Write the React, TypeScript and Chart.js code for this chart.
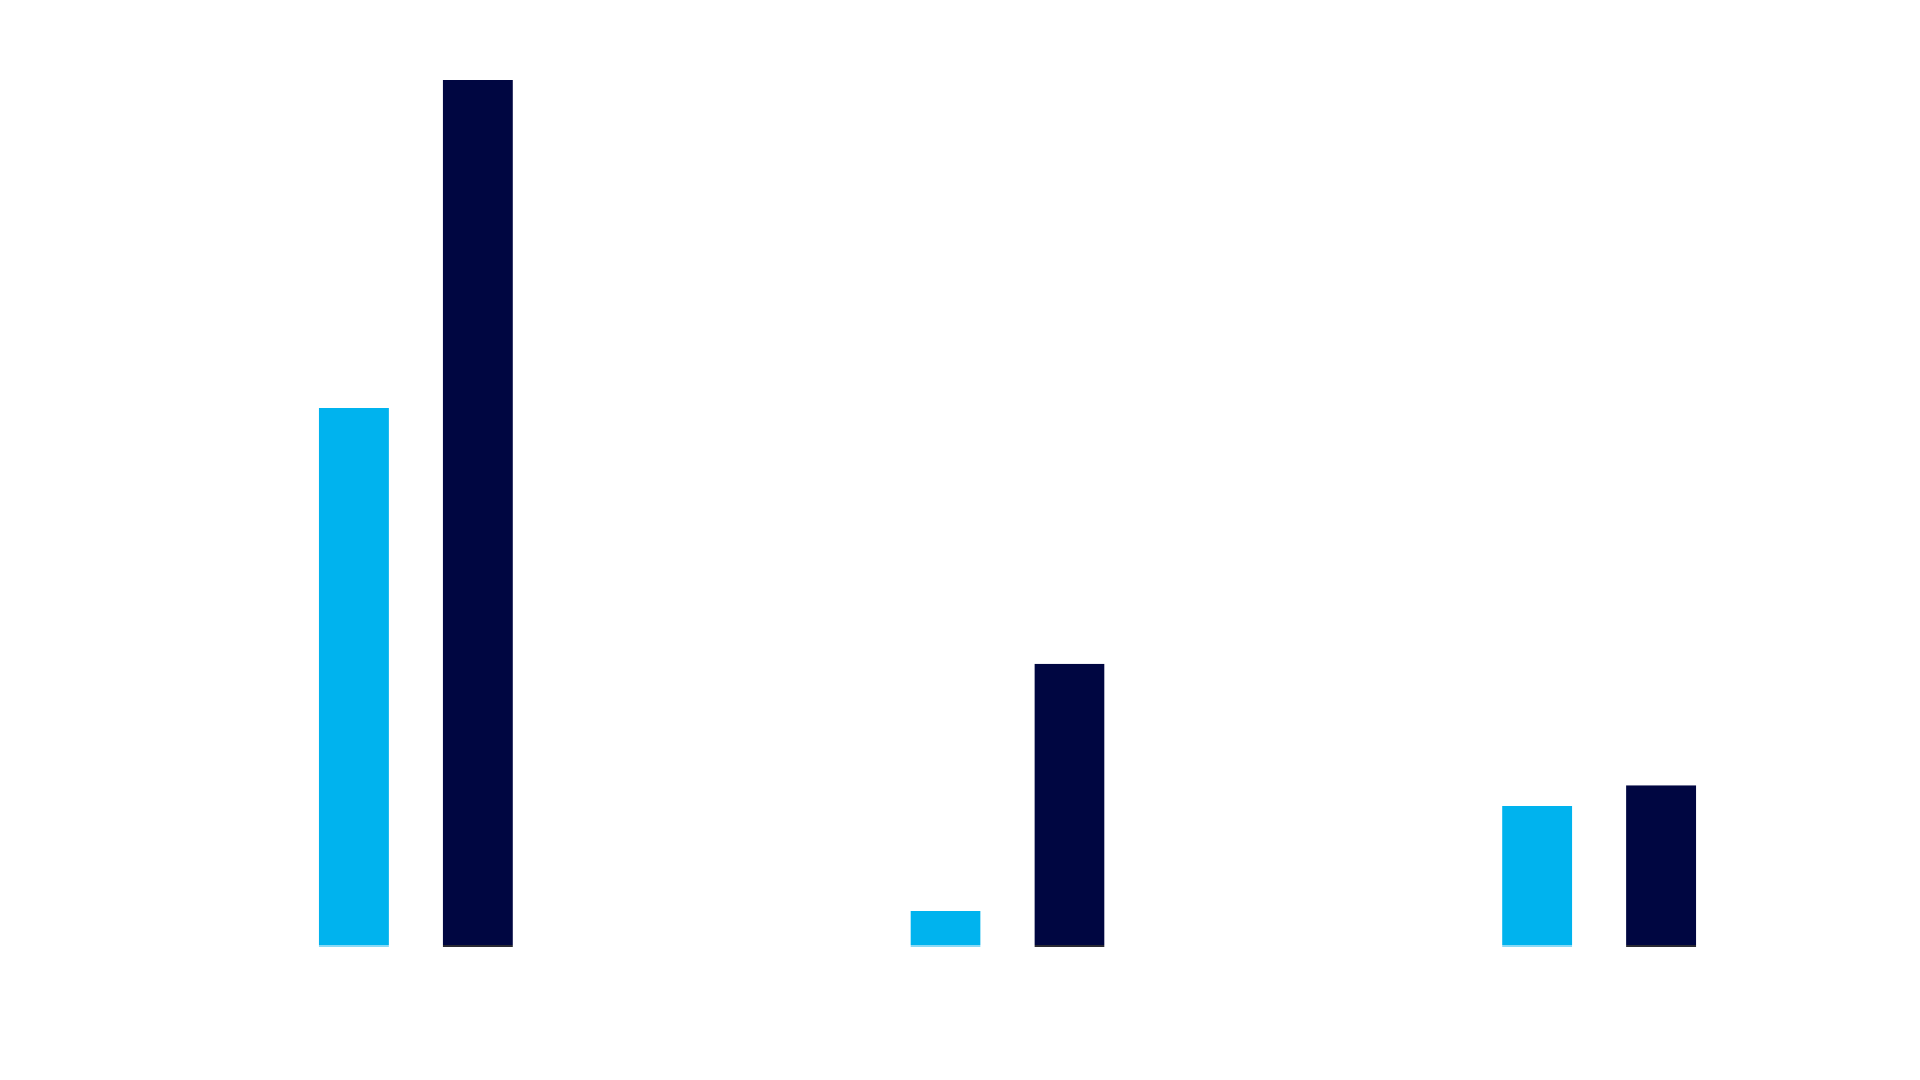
import React, { useEffect, useRef } from "react";
import { Chart, registerables } from "chart.js";

Chart.register(...registerables);

const categories: string[] = ["Group 1", "Group 2", "Group 3"];
const seriesNames: string[] = ["Series A", "Series B"];
const seriesA: number[] = [3.73, 0.25, 0.975];
const seriesB: number[] = [6.0, 1.96, 1.12];
const yTicks: number[] = [0, 1, 2, 3, 4, 5, 6];

export default function App() {
  const ref = useRef<HTMLCanvasElement | null>(null);

  useEffect(() => {
    if (!ref.current) return;
    const chart = new Chart(ref.current, {
      type: "bar",
      data: {
        labels: categories,
        datasets: [
          {
            label: seriesNames[0],
            data: seriesA,
            backgroundColor: "#00B3EE",
            borderColor: "#8AD9F5",
            borderWidth: { top: 0, left: 0, right: 0, bottom: 2 },
            borderSkipped: false,
          },
          {
            label: seriesNames[1],
            data: seriesB,
            backgroundColor: "#000641",
            borderColor: "#2A2A33",
            borderWidth: { top: 0, left: 0, right: 0, bottom: 2 },
            borderSkipped: false,
          },
        ],
      },
      options: {
        animation: false,
        responsive: false,
        maintainAspectRatio: false,
        layout: { padding: { left: 120, right: 25, top: 80, bottom: 133 } },
        plugins: { legend: { display: false }, tooltip: { enabled: false }, title: { display: false } },
        datasets: { bar: { categoryPercentage: 0.419, barPercentage: 0.566 } },
        scales: {
          x: { display: false, grid: { display: false } },
          y: {
            display: false,
            min: yTicks[0],
            max: yTicks[yTicks.length - 1],
            ticks: { stepSize: 1 },
            grid: { display: false },
          },
        },
      },
    });
    return () => chart.destroy();
  }, []);

  return (
    <div style={{ position: "absolute", left: 0, top: 0, width: 1920, height: 1080, background: "#ffffff" }}>
      <canvas ref={ref} width={1920} height={1080} style={{ display: "block", width: 1920, height: 1080 }} />
    </div>
  );
}
